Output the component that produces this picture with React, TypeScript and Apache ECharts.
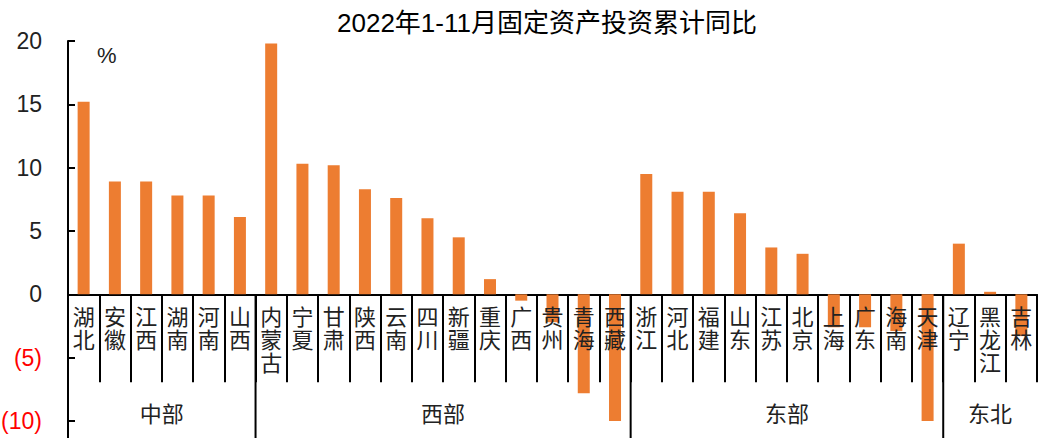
import React, { useEffect, useRef } from "react";
import * as echarts from "echarts";

const TITLE = "2022年1-11月固定资产投资累计同比";
const categories = [
  "湖北", "安徽", "江西", "湖南", "河南", "山西",
  "内蒙古", "宁夏", "甘肃", "陕西", "云南", "四川", "新疆", "重庆", "广西", "贵州", "青海", "西藏",
  "浙江", "河北", "福建", "山东", "江苏", "北京", "上海", "广东", "海南", "天津",
  "辽宁", "黑龙江", "吉林",
];
const values = [
  15.2, 8.9, 8.9, 7.8, 7.8, 6.1,
  19.8, 10.3, 10.2, 8.3, 7.6, 6.0, 4.5, 1.2, -0.5, -2.2, -7.8, -10.0,
  9.5, 8.1, 8.1, 6.4, 3.7, 3.2, -2.6, -2.6, -2.9, -10.0,
  4.0, 0.2, -3.3,
];
const groupNames = ["中部", "西部", "东部", "东北"];
const groupSizes = [6, 12, 10, 3];
const yMin = -10;
const yMax = 20;
const yInterval = 5;
const unitLabel = "%";

const FONT = "'Liberation Sans', 'Noto Sans CJK SC', sans-serif";

export default function App() {
  const ref = useRef<HTMLDivElement>(null);

  useEffect(() => {
    document.body.style.margin = "0";
    const chart = echarts.init(ref.current!, null, { renderer: "svg" });
    const option: any = {
      animation: false,
      backgroundColor: "#ffffff",
      title: {
        text: TITLE,
        left: 542,
        textAlign: "center",
        top: 5,
        textStyle: { fontFamily: FONT, fontSize: 26, fontWeight: "normal", color: "#000" },
      },
      grid: { left: 68, right: 2, top: 41, bottom: 17, containLabel: false, outerBoundsMode: "none" },
      xAxis: {
        type: "category",
        data: categories,
        axisLine: { onZero: true, lineStyle: { color: "#000", width: 2 } },
        axisTick: { show: true, interval: 0, length: 88, lineStyle: { color: "#000", width: 2 } },
        axisLabel: { show: false },
      },
      yAxis: {
        type: "value",
        min: yMin,
        max: yMax,
        interval: yInterval,
        splitLine: { show: false },
        axisLine: { show: true, lineStyle: { color: "#000", width: 2 } },
        axisTick: { show: true, inside: true, length: 7, lineStyle: { color: "#000", width: 2 } },
        axisLabel: {
          margin: 26,
          fontFamily: FONT,
          fontSize: 23,
          color: "#222",
          formatter: (v: number) => (v < 0 ? `{neg|(${-v})}` : `${v}`),
          rich: { neg: { color: "#ff0000", fontFamily: FONT, fontSize: 23 } },
        },
      },
      series: [
        {
          type: "bar",
          data: values,
          barWidth: 12,
          itemStyle: { color: "#ED7D31" },
        },
      ],
    };
    chart.setOption(option);

    const cx = categories.map((_, i) => chart.convertToPixel({ xAxisIndex: 0 }, i) as number);
    const step = cx[1] - cx[0];
    const boundary = (i: number) => (i < cx.length ? cx[i] - step / 2 : cx[cx.length - 1] + step / 2);
    const y0 = chart.convertToPixel({ yAxisIndex: 0 }, 0) as number;
    const yBottom = chart.convertToPixel({ yAxisIndex: 0 }, yMin) as number;
    const yTop = chart.convertToPixel({ yAxisIndex: 0 }, yMax) as number;
    const H = chart.getHeight();

    const graphics: any[] = [];
    graphics.push({
      type: "line",
      z: 50,
      shape: { x1: boundary(0), y1: yBottom, x2: boundary(0), y2: H },
      style: { stroke: "#000", lineWidth: 2 },
    });
    categories.forEach((c, i) => {
      graphics.push({
        type: "text",
        z: 100,
        x: cx[i],
        y: y0 + 12,
        style: {
          text: c.split("").join("\n"),
          fontFamily: FONT,
          fontSize: 22,
          lineHeight: 23,
          fill: "#222",
          textAlign: "center",
          textVerticalAlign: "top",
        },
      });
    });
    let start = 0;
    groupSizes.forEach((n, gi) => {
      const end = start + n;
      if (gi < groupSizes.length - 1) {
        graphics.push({
          type: "line",
          z: 50,
          shape: { x1: boundary(end), y1: y0, x2: boundary(end), y2: H },
          style: { stroke: "#000", lineWidth: 2 },
        });
      }
      graphics.push({
        type: "text",
        z: 100,
        x: (boundary(start) + boundary(end)) / 2,
        y: 414,
        style: {
          text: groupNames[gi],
          fontFamily: FONT,
          fontSize: 22,
          fill: "#222",
          textAlign: "center",
          textVerticalAlign: "middle",
        },
      });
      start = end;
    });
    graphics.push({
      type: "text",
      z: 100,
      x: boundary(0) + 29,
      y: yTop + 14,
      style: {
        text: unitLabel,
        fontFamily: FONT,
        fontSize: 22,
        fill: "#222",
        textAlign: "left",
        textVerticalAlign: "middle",
      },
    });
    chart.setOption({ graphic: graphics });

    return () => chart.dispose();
  }, []);

  return <div ref={ref} style={{ width: 1039, height: 438 }} />;
}
